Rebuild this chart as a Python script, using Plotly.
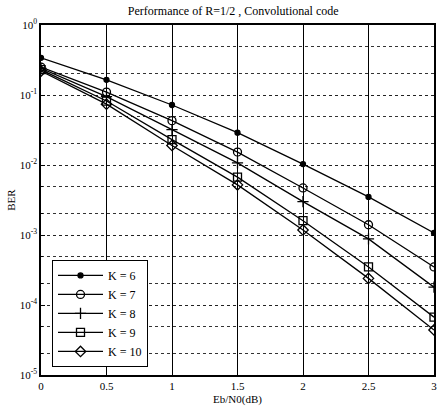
import plotly.graph_objects as go

ebn0 = [0, 0.5, 1, 1.5, 2, 2.5, 3]
ber_k6 = [0.34, 0.165, 0.072, 0.029, 0.0103, 0.0035, 0.00107]
ber_k7 = [0.25, 0.11, 0.043, 0.0153, 0.0047, 0.0014, 0.00035]
ber_k8 = [0.24, 0.095, 0.032, 0.0107, 0.003, 0.00088, 0.00018]
ber_k9 = [0.23, 0.082, 0.023, 0.0067, 0.0016, 0.00035, 0.000067]
ber_k10 = [0.22, 0.074, 0.019, 0.0052, 0.00118, 0.00024, 0.000044]

names = ["K = 6", "K = 7", "K = 8", "K = 9", "K = 10"]
series = [ber_k6, ber_k7, ber_k8, ber_k9, ber_k10]
symbols = ["circle", "circle-open", "cross-thin-open", "square-open", "diamond-open"]
sizes = [5, 8, 8, 8, 8]

ytick_vals = [1, 0.1, 0.01, 0.001, 0.0001, 0.00001]
ytick_text = ["10<sup>0</sup>", "10<sup>-1</sup>", "10<sup>-2</sup>", "10<sup>-3</sup>",
              "10<sup>-4</sup>", "10<sup>-5</sup>"]
xtick_vals = [0, 0.5, 1, 1.5, 2, 2.5, 3]
xtick_text = ["0", "0.5", "1", "1.5", "2", "2.5", "3"]

fig = go.Figure()
for name, ys, sym, sz in zip(names, series, symbols, sizes):
    fig.add_trace(go.Scatter(
        x=ebn0, y=ys, name=name, mode="lines+markers",
        line=dict(color="black", width=1.3),
        marker=dict(symbol=sym, size=sz, color="black",
                    line=dict(color="black", width=1.3)),
    ))

font = "'Liberation Serif', 'Times New Roman', 'DejaVu Serif', serif"
fig.update_layout(
    width=440, height=414,
    margin=dict(l=41, r=6, t=25, b=39),
    paper_bgcolor="white", plot_bgcolor="white",
    font=dict(family=font, size=11, color="black"),
    title=dict(text="Performance of R=1/2 , Convolutional code", x=0.53, xanchor="center",
               y=0.985, yanchor="top", font=dict(family=font, size=12, color="black")),
    showlegend=True,
    legend=dict(x=0.028, y=0.023, xanchor="left", yanchor="bottom",
                bgcolor="white", bordercolor="black", borderwidth=1,
                font=dict(family=font, size=12, color="black"),
                tracegroupgap=0, itemwidth=45),
    xaxis=dict(range=[0, 3], tickvals=xtick_vals, ticktext=xtick_text,
               showline=True, linecolor="black", linewidth=1.5, mirror=True,
               showgrid=True, gridcolor="black", gridwidth=1,
               ticks="inside", ticklen=4, tickcolor="black",
               zeroline=False, automargin=False,
               title=dict(text="Eb/N0(dB)", standoff=4, font=dict(family=font, size=11))),
    yaxis=dict(type="log", range=[-5, 0], tickvals=ytick_vals, ticktext=ytick_text,
               showline=True, linecolor="black", linewidth=1.5, mirror=True,
               showgrid=True, gridcolor="#222", gridwidth=1, griddash="dot",
               ticks="inside", ticklen=4, tickcolor="black",
               minor=dict(showgrid=True, gridcolor="#333", gridwidth=1, griddash="dot",
                          ticks="inside", ticklen=2, tickcolor="black"),
               zeroline=False, automargin=False,
               title=dict(text="BER", standoff=2, font=dict(family=font, size=11))),
)

fig.write_html("out.html", config={"displayModeBar": False},
               post_script="document.body.style.margin='0';")
